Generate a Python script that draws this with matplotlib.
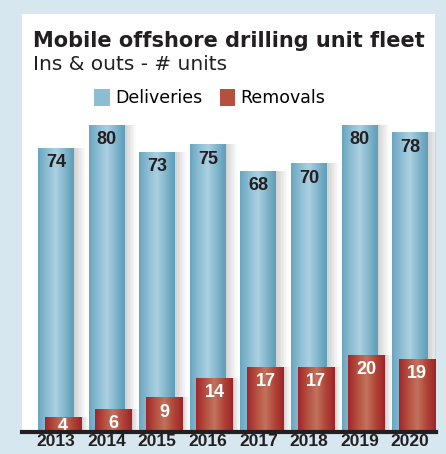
import numpy as np
import matplotlib
matplotlib.use("Agg")
import matplotlib.pyplot as plt
from matplotlib.colors import LinearSegmentedColormap
import matplotlib.patches as mpatches

years = ["2013", "2014", "2015", "2016", "2017", "2018", "2019", "2020"]
deliveries = [74, 80, 73, 75, 68, 70, 80, 78]
removals = [4, 6, 9, 14, 17, 17, 20, 19]

W, H = 446, 454
FONT = "DejaVu Sans"
NUMFONT = "Liberation Sans"
fig = plt.figure(figsize=(W / 100, H / 100), dpi=100)
fig.patch.set_facecolor("#d7e7ef")

# white panel behind the chart
fig.patches.append(mpatches.Rectangle((22 / W, (H - 432) / H), (435 - 22) / W, (432 - 14) / H,
                                      transform=fig.transFigure, facecolor="white",
                                      edgecolor="none", zorder=-5))

ax = fig.add_axes([22 / W, (H - 432) / H, (436 - 22) / W, (432 - 14) / H])
ax.set_zorder(2)
ax.set_facecolor("none")
x = np.arange(len(years))
xlim = ((22 - 56) / 50.6, (436 - 56) / 50.6)
ylim = (0, 418 / 3.84)

blue_cmap = LinearSegmentedColormap.from_list("b", ["#6aa6c0", "#8cbdd3", "#abd0e1", "#82b6cd", "#5e9db9"])
red_cmap = LinearSegmentedColormap.from_list("r", ["#a2262a", "#b5503f", "#c2725e", "#b04538", "#9e2428"])
grad = np.linspace(0, 1, 64).reshape(1, -1)

# soft shadows to the right of the bars
for i, v in enumerate(deliveries):
    for k in range(7):
        ax.bar(x[i] + 0.04 + k * 0.03, v, width=0.71, color="#000000", alpha=0.022, zorder=1, linewidth=0)
for i, v in enumerate(removals):
    for k in range(5):
        ax.bar(x[i] + 0.16 + k * 0.03, v, width=0.73, color="#000000", alpha=0.025, zorder=3.5, linewidth=0)

bb = ax.bar(x, deliveries, width=0.71, color="#8cbdd3", zorder=2, linewidth=0, label="Deliveries")
rb = ax.bar(x + 0.14, removals, width=0.73, color="#b5503f", zorder=4, linewidth=0, label="Removals")

for bars, cmap, z in [(bb, blue_cmap, 3), (rb, red_cmap, 5)]:
    for r in bars:
        x0, w, h = r.get_x(), r.get_width(), r.get_height()
        im = ax.imshow(grad, extent=[x0, x0 + w, 0, h], aspect="auto", cmap=cmap, zorder=z)
        im.set_clip_path(r)

ax.set_xlim(*xlim)
ax.set_ylim(*ylim)

for i, v in enumerate(deliveries):
    ax.text(x[i], v - 1.7, str(v), ha="center", va="top", fontsize=13, fontweight="bold",
            color="#231f20", family=NUMFONT, zorder=6)
for i, v in enumerate(removals):
    # the tiny 2013 bar can't hold the label fully, keep it near the bar top
    off = 1.6 if v >= 6 else 0.3
    ax.text(x[i] + 0.14, v - off, str(v), ha="center", va="top", fontsize=13, fontweight="bold",
            color="white", family=NUMFONT, zorder=6, clip_on=True)

for s in ["top", "right", "left"]:
    ax.spines[s].set_visible(False)
ax.spines["bottom"].set_linewidth(3)
ax.spines["bottom"].set_color("#231f20")
ax.spines["bottom"].set_zorder(7)
ax.set_yticks([])
ax.set_xticks(x)
ax.set_xticklabels(years, fontsize=12.5, fontweight="bold", color="#231f20", family=NUMFONT)
ax.tick_params(axis="x", length=0, pad=1.5)

fig.text(33 / W, 1 - 41 / H, "Mobile offshore drilling unit fleet", fontsize=15, fontweight="bold",
         color="#231f20", family=FONT, va="center", ha="left")
fig.text(33 / W, 1 - 65 / H, "Ins & outs - # units", fontsize=14.5, color="#231f20",
         family=FONT, va="center", ha="left")

fig.legend(handles=[bb, rb], labels=["Deliveries", "Removals"], loc="center", ncol=2,
           bbox_to_anchor=(210 / W, 1 - 98 / H), frameon=False,
           prop={"family": FONT, "size": 12.5},
           handlelength=0.9, handleheight=1.2, handletextpad=0.3, columnspacing=1.0)

fig.savefig("out.png", dpi=100, facecolor=fig.get_facecolor())
